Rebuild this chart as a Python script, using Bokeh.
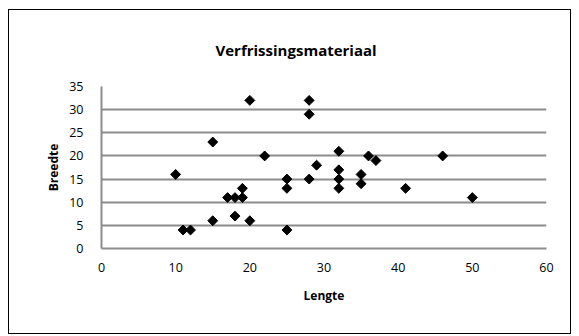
from bokeh.plotting import figure
from bokeh.models import Range1d, FixedTicker
from bokeh.embed import file_html
from bokeh.resources import INLINE

lengte = [10, 11, 12, 15, 15, 17, 18, 18, 19, 19, 20, 20, 22, 25, 25, 25,
          28, 28, 28, 29, 32, 32, 32, 32, 35, 35, 36, 37, 41, 46, 50]
breedte = [16, 4, 4, 23, 6, 11, 11, 7, 13, 11, 32, 6, 20, 15, 13, 4,
           32, 29, 15, 18, 21, 17, 15, 13, 16, 14, 20, 19, 13, 20, 11]
x_ticks = [0, 10, 20, 30, 40, 50, 60]
y_ticks = [0, 5, 10, 15, 20, 25, 30, 35]
title_text = "Verfrissingsmateriaal"
x_label = "Lengte"
y_label = "Breedte"

FONT = "Open Sans"
GRID = "#8c8c8c"

p = figure(frame_width=445, frame_height=162,
           min_border_left=92, min_border_right=24,
           min_border_top=76, min_border_bottom=85,
           x_range=Range1d(0, 60), y_range=Range1d(0, 35),
           output_backend="svg", toolbar_location=None,
           title=title_text)
p.styles = {"margin-left": "8px", "margin-top": "9px",
            "border": "1.5px solid black"}

p.title.align = "left"
p.title.offset = 114
p.title.standoff = 53
p.title.text_font = FONT
p.title.text_font_style = "bold"
p.title.text_font_size = "15px"
p.title.text_color = "black"

p.outline_line_color = None
p.background_fill_color = "white"
p.border_fill_color = "white"

p.xgrid.grid_line_color = None
p.ygrid.grid_line_color = GRID
p.ygrid.grid_line_width = 2
p.ygrid.ticker = FixedTicker(ticks=y_ticks)

for ax in (p.xaxis[0], p.yaxis[0]):
    ax.axis_line_color = GRID
    ax.axis_line_width = 2
    ax.major_tick_in = 0
    ax.major_tick_out = 0
    ax.minor_tick_in = 0
    ax.minor_tick_out = 0
    ax.major_label_text_font = FONT
    ax.major_label_text_font_size = "12.5px"
    ax.major_label_text_color = "black"
    ax.axis_label_text_font = FONT
    ax.axis_label_text_font_style = "bold"
    ax.axis_label_text_font_size = "12px"
    ax.axis_label_text_color = "black"

p.xaxis.ticker = FixedTicker(ticks=x_ticks)
p.yaxis.ticker = FixedTicker(ticks=y_ticks)
p.xaxis.axis_label = x_label
p.yaxis.axis_label = y_label
p.xaxis.major_label_standoff = 14
p.xaxis.axis_label_standoff = 12
p.yaxis.major_label_standoff = 18
p.yaxis.axis_label_standoff = 4

p.scatter(lengte, breedte, marker="square", angle=0.785398, size=7, color="black")

open("out.html", "w").write(file_html(p, INLINE))
